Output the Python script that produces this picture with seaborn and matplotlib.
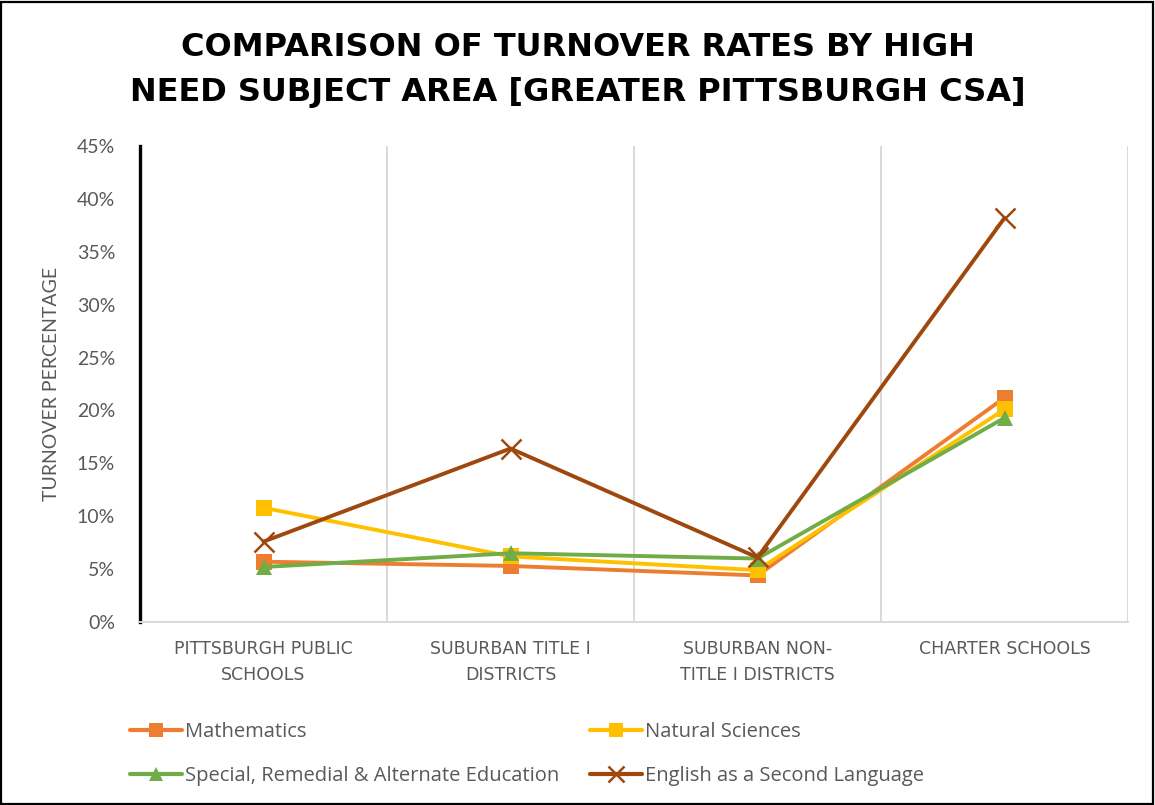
import matplotlib
matplotlib.use("Agg")
import matplotlib.pyplot as plt
from matplotlib.patches import Rectangle
from matplotlib.lines import Line2D
from matplotlib.ticker import PercentFormatter
import seaborn as sns
import pandas as pd

# Turnover rates (%) by school group
categories = ["PITTSBURGH PUBLIC\nSCHOOLS", "SUBURBAN TITLE I\nDISTRICTS",
              "SUBURBAN NON-\nTITLE I DISTRICTS", "CHARTER SCHOOLS"]
mathematics = [5.7, 5.3, 4.4, 21.2]
natural_sciences = [10.8, 6.2, 4.9, 20.1]
special_education = [5.2, 6.5, 6.0, 19.3]
esl = [7.6, 16.4, 6.1, 38.2]
series_names = ["Mathematics", "Natural Sciences",
                "Special, Remedial & Alternate Education", "English as a Second Language"]
y_ticks = [0, 5, 10, 15, 20, 25, 30, 35, 40, 45]

colors = ["#ED7D31", "#FFC000", "#70AD47", "#9E480E"]
markers = ["s", "s", "^", "x"]
text_gray = "#595959"
grid_gray = "#D9D9D9"

rows = []
for name, vals in zip(series_names, [mathematics, natural_sciences, special_education, esl]):
    for i, v in enumerate(vals):
        rows.append({"pos": i, "rate": v, "series": name})
df = pd.DataFrame(rows)

sns.set_theme(style="white")
plt.rcParams["font.family"] = ["Open Sans", "DejaVu Sans"]

W, H = 1155, 805
fig = plt.figure(figsize=(W / 100, H / 100), dpi=100)
ax = fig.add_axes([140 / W, (H - 622) / H, (1128 - 140) / W, (622 - 146) / H])

for name, c, m in zip(series_names, colors, markers):
    sub = df[df["series"] == name]
    if m == "x":
        kw = dict(markersize=14, markeredgewidth=1.8, markeredgecolor=c)
    else:
        kw = dict(markersize=11.5, markeredgewidth=0)
    sns.lineplot(data=sub, x="pos", y="rate", color=c, marker=m, linewidth=2.8,
                 legend=False, ax=ax, sort=False, **kw)

ax.set_xlim(-0.5, 3.5)
ax.set_ylim(0, 45)
ax.set_yticks(y_ticks)
ax.yaxis.set_major_formatter(PercentFormatter(decimals=0))
ax.tick_params(axis="y", labelcolor=text_gray, length=0, pad=18)
for t in ax.get_yticklabels():
    t.set_fontfamily(["Lato", "DejaVu Sans"])
    t.set_fontsize(14)
ax.set_xticks(range(len(categories)))
ax.set_xticklabels(categories, fontsize=12.5, color=text_gray, linespacing=1.6,
                   family=["DejaVu Sans"])
ax.tick_params(axis="x", length=0, pad=13)
for b in [0.5, 1.5, 2.5, 3.5]:
    ax.axvline(b, color=grid_gray, linewidth=1.4, zorder=0)
ax.grid(False)
for s in ["top", "right"]:
    ax.spines[s].set_visible(False)
ax.spines["left"].set_color("black")
ax.spines["left"].set_linewidth(2.4)
ax.spines["bottom"].set_color(grid_gray)
ax.spines["bottom"].set_linewidth(1.4)
ax.set_xlabel("")
ax.set_ylabel("TURNOVER PERCENTAGE", fontsize=14, color=text_gray, labelpad=12,
              family=["Lato", "DejaVu Sans"])

fig.text(0.5, 1 - 48 / H, "COMPARISON OF TURNOVER RATES BY HIGH", ha="center", va="center",
         fontsize=23, fontweight="bold", color="black", family=["DejaVu Sans"])
fig.text(0.5, 1 - 92 / H, "NEED SUBJECT AREA [GREATER PITTSBURGH CSA]", ha="center", va="center",
         fontsize=23, fontweight="bold", color="black", family=["DejaVu Sans"])

handles = []
for c, m in zip(colors, markers):
    if m == "x":
        h = Line2D([], [], color=c, marker=m, linewidth=3, markersize=12, markeredgewidth=1.8)
    else:
        h = Line2D([], [], color=c, marker=m, linewidth=3, markersize=10.5, markeredgewidth=0)
    handles.append(h)
# legend fills column by column: order so rows read Math / Nat Sci, Special / ESL
order = [0, 2, 1, 3]
leg = fig.legend([handles[i] for i in order], [series_names[i] for i in order],
                 loc="upper left", bbox_to_anchor=(122 / W, 1 - 714 / H),
                 ncol=2, frameon=False, fontsize=14.5, handlelength=2.6, handletextpad=0.15,
                 columnspacing=1.5, labelspacing=1.2, borderaxespad=0)
for t in leg.get_texts():
    t.set_color(text_gray)

fig.add_artist(Rectangle((0.001, 0.001), 0.997, 0.997, transform=fig.transFigure,
                         fill=False, edgecolor="black", linewidth=1.6))

fig.savefig("out.png", dpi=100)
